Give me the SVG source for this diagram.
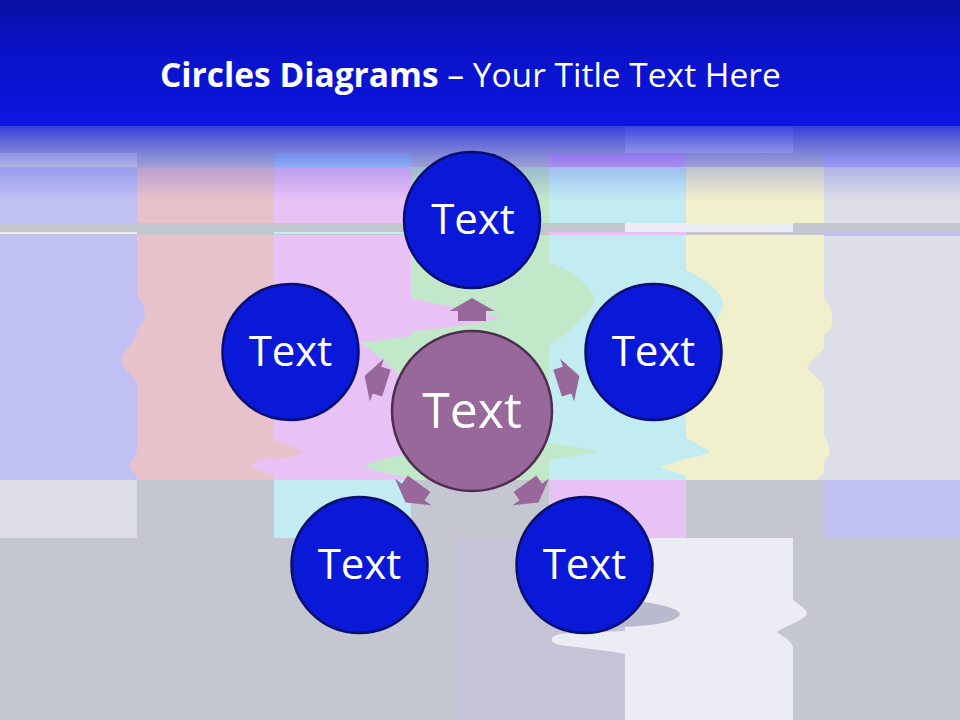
<svg xmlns="http://www.w3.org/2000/svg" xmlns:xlink="http://www.w3.org/1999/xlink" width="960" height="720" viewBox="0 0 960 720">
  <defs>
    <linearGradient id="hdr" x1="0" y1="0" x2="0" y2="1">
      <stop offset="0" stop-color="#0810a2"/>
      <stop offset="0.35" stop-color="#0a12c6"/>
      <stop offset="1" stop-color="#0c16e0"/>
    </linearGradient>
    <linearGradient id="fade" x1="0" y1="0" x2="0" y2="1">
      <stop offset="0" stop-color="#1018e0" stop-opacity="0.78"/>
      <stop offset="0.3" stop-color="#1018e0" stop-opacity="0.45"/>
      <stop offset="0.55" stop-color="#1018e0" stop-opacity="0.22"/>
      <stop offset="1" stop-color="#1018e0" stop-opacity="0"/>
    </linearGradient>
    <path id="arrow" d="M-14,0 L-14,-10 L-22.5,-10 L0,-23 L22.5,-10 L14,-10 L14,0 Z"/>
    <style>
      .sat { fill: #0a18d8; stroke: #0a0e6e; stroke-width: 2.5; }
      .hub { fill: #98689a; stroke: #4e2e50; stroke-width: 2.5; }
      .lbl { font-family: "Open Sans", "Liberation Sans", sans-serif; fill: #ffffff; text-anchor: middle; }
      .arr { fill: #98689a; }
      .gray { fill: #c4c6d0; }
      .lav { fill: #c0c0f2; }
      .pink { fill: #e8c2ca; }
      .vio { fill: #e8c2f4; }
      .grn { fill: #c2e8ca; }
      .cyn { fill: #c2ecf2; }
      .yel { fill: #f0f0cc; }
      .wht { fill: #dedee8; }
      .wht2 { fill: #ececf4; }
    </style>
  </defs>

  <!-- background test-pattern -->
  <g id="background">
    <rect x="0" y="0" width="960" height="720" class="gray"/>
    <rect x="625" y="127" width="168" height="26" class="wht"/>
    <!-- top thin strip -->
    <rect x="0" y="153" width="137" height="14" class="wht"/>
    <rect x="274" y="153" width="137" height="14" fill="#b0d4f4"/>
    <rect x="549" y="153" width="137" height="14" fill="#d8b0f4"/>
    <rect x="824" y="153" width="136" height="14" class="lav"/>
    <!-- main bars -->
    <rect x="0" y="167" width="137" height="313" class="lav"/>
    <rect x="137" y="167" width="137" height="313" class="pink"/>
    <rect x="274" y="167" width="137" height="313" class="vio"/>
    <rect x="411" y="167" width="138" height="313" class="grn"/>
    <rect x="549" y="167" width="137" height="313" class="cyn"/>
    <rect x="686" y="167" width="138" height="313" class="yel"/>
    <rect x="824" y="167" width="136" height="313" class="wht"/>
    <!-- grey stripe -->
    <rect x="0" y="223" width="960" height="12" class="gray"/>
    <rect x="0" y="232" width="137" height="2" class="wht2"/>
    <rect x="274" y="232" width="137" height="2" class="cyn"/>
    <rect x="549" y="232" width="137" height="3" class="vio"/>
    <rect x="625" y="223" width="168" height="9" class="wht2"/>
    <rect x="824" y="232" width="136" height="4" class="lav"/>
    <!-- wavy distortions -->
    <path class="lav" d="M137,296 C143,302 147,312 144,320 C141,326 137,328 137,330 Z"/>
    <path class="pink" d="M137,330 C135,345 120,352 122,362 C124,372 140,378 137,392 Z"/>
    <path class="pink" d="M137,452 C134,460 128,464 130,468 C133,472 137,475 137,478 Z"/>
    <path class="pink" d="M274,440 C285,445 300,449 302,452 C296,456 285,458 274,460 Z"/>
    <path class="vio" d="M274,456 C265,459 252,462 250,466 C258,470 266,473 274,476 Z"/>
    <path class="vio" d="M411,298 C440,305 480,312 500,318 C480,324 440,328 411,332 Z"/>
    <path class="grn" d="M411,336 L360,343 C375,352 395,370 411,386 Z"/>
    <path class="grn" d="M411,453 C395,457 372,461 365,466 C375,472 400,476 411,478 Z"/>
    <path class="grn" d="M549,262 C570,270 592,285 595,300 C585,320 565,335 549,345 Z"/>
    <path class="grn" d="M549,443 C570,446 590,449 598,451 C590,454 570,457 549,460 Z"/>
    <path class="cyn" d="M686,270 C705,280 722,290 723,305 C722,320 700,335 686,342 Z"/>
    <path class="cyn" d="M686,438 C695,443 705,448 711,452 C705,455 695,457 686,459 Z"/>
    <path class="yel" d="M686,458 C678,462 666,465 660,467 C668,470 678,473 686,476 Z"/>
    <path class="yel" d="M824,298 C830,305 834,315 832,325 C830,330 826,333 824,336 Z"/>
    <path class="wht" d="M824,348 C820,355 808,362 807,367 C809,372 822,380 824,388 Z"/>
    <path class="yel" d="M824,436 C828,442 830,448 829,455 C827,458 825,460 824,462 Z"/>
    <path class="wht" d="M824,474 C820,476 817,478 817,480 L824,480 Z"/>
    <!-- second row -->
    <rect x="0" y="480" width="137" height="58" class="wht"/>
    <rect x="274" y="480" width="137" height="58" class="cyn"/>
    <rect x="549" y="480" width="137" height="58" class="vio"/>
    <rect x="824" y="480" width="136" height="58" class="lav"/>
    <!-- bottom area -->
    <rect x="455" y="538" width="170" height="182" fill="#c5c4d6"/>
    <path class="wht2" d="M625,538 L793,538 L793,600 C800,605 808,610 807,614 C804,620 785,626 777,632 C785,638 793,642 793,648 L793,720 L625,720 L625,654 C605,650 580,648 560,645 C548,642 550,636 560,634 C580,632 610,632 625,631 Z"/>
    <path fill="#babace" d="M613,600 C640,600 678,606 680,614 C678,622 650,627 613,627 Z"/>
  </g>

  <!-- header -->
  <g id="header">
    <rect x="0" y="0" width="960" height="126" fill="url(#hdr)"/>
    <rect x="0" y="126" width="960" height="74" fill="url(#fade)"/>
    <text x="160" y="87" font-family="'Open Sans', 'Liberation Sans', sans-serif" font-size="33.5" fill="#ffffff"><tspan font-weight="bold">Circles Diagrams</tspan> – Your Title Text Here</text>
  </g>

  <!-- connectors -->
  <g id="connectors" class="arr">
    <use xlink:href="#arrow" transform="translate(472,411) rotate(0) translate(0,-90)"/>
    <use xlink:href="#arrow" transform="translate(472,411) rotate(72) translate(0,-90)"/>
    <use xlink:href="#arrow" transform="translate(472,411) rotate(144) translate(0,-90)"/>
    <use xlink:href="#arrow" transform="translate(472,411) rotate(216) translate(0,-90)"/>
    <use xlink:href="#arrow" transform="translate(472,411) rotate(288) translate(0,-90)"/>
  </g>

  <!-- nodes -->
  <g id="node-center">
    <circle cx="472" cy="411" r="80" class="hub"/>
    <text x="472" y="428" class="lbl" font-size="50">Text</text>
  </g>
  <g id="node-top">
    <circle cx="472" cy="220" r="68" class="sat"/>
    <text x="473" y="234" class="lbl" font-size="42">Text</text>
  </g>
  <g id="node-right">
    <circle cx="653.5" cy="352" r="68" class="sat"/>
    <text x="653.5" y="366" class="lbl" font-size="42">Text</text>
  </g>
  <g id="node-bottom-right">
    <circle cx="584.5" cy="565" r="68" class="sat"/>
    <text x="584.5" y="579" class="lbl" font-size="42">Text</text>
  </g>
  <g id="node-bottom-left">
    <circle cx="359.5" cy="565" r="68" class="sat"/>
    <text x="359.5" y="579" class="lbl" font-size="42">Text</text>
  </g>
  <g id="node-left">
    <circle cx="290.5" cy="352" r="68" class="sat"/>
    <text x="290.5" y="366" class="lbl" font-size="42">Text</text>
  </g>
</svg>
